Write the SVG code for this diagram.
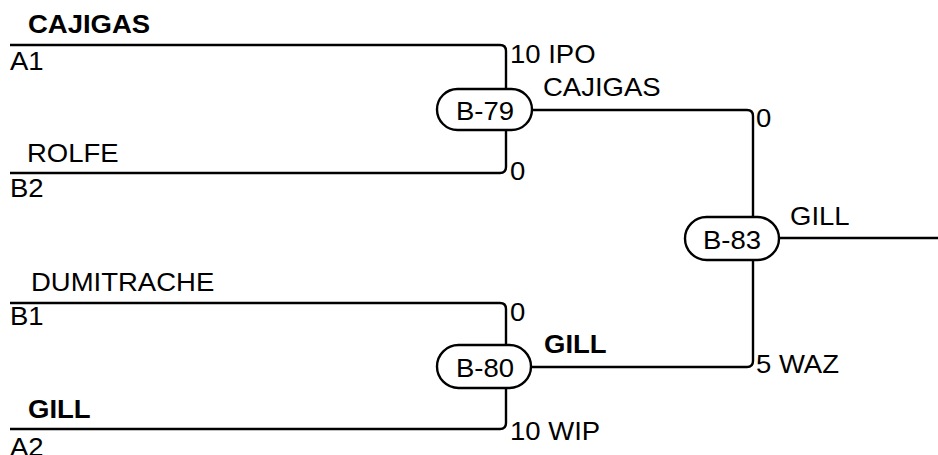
<svg xmlns="http://www.w3.org/2000/svg" width="938" height="455" viewBox="0 0 938 455">
<style>
  .t{font-family:"Liberation Sans",Arial,sans-serif;font-size:25px;fill:#000}
  .b{font-weight:bold}
  .ln{fill:none;stroke:#000;stroke-width:2.4}
  .pill{fill:#fff;stroke:#000;stroke-width:2.4}
  .c{text-anchor:middle}
</style>
<rect width="938" height="455" fill="#fff"/>
<g id="connectors">
  <path class="ln" d="M10,45 H500 Q506,45 506,51 V89"/>
  <path class="ln" d="M10,173 H500 Q506,173 506,167 V130"/>
  <path class="ln" d="M10,303 H500 Q506,303 506,309 V345"/>
  <path class="ln" d="M10,429 H500 Q506,429 506,423 V388"/>
  <path class="ln" d="M532,110 H747 Q753,110 753,116 V217"/>
  <path class="ln" d="M531,367 H747 Q753,367 753,361 V260"/>
  <path class="ln" d="M779,238 H938"/>
</g>
<g id="entrants">
  <text class="t b" transform="translate(28,33) scale(1.1,1)">CAJIGAS</text>
  <text class="t" transform="translate(10,70) scale(1.1,1)">A1</text>
  <text class="t" transform="translate(27,162) scale(1.1,1)">ROLFE</text>
  <text class="t" transform="translate(10,197) scale(1.1,1)">B2</text>
  <text class="t" transform="translate(31,291) scale(1.1,1)">DUMITRACHE</text>
  <text class="t" transform="translate(10,325) scale(1.1,1)">B1</text>
  <text class="t b" transform="translate(28,418) scale(1.1,1)">GILL</text>
  <text class="t" transform="translate(10,456) scale(1.1,1)">A2</text>
</g>
<g id="B-79">
  <rect class="pill" x="437" y="89" width="95" height="41" rx="20.5"/>
  <text class="t c" transform="translate(485,120) scale(1.1,1)">B-79</text>
</g>
<g id="B-80">
  <rect class="pill" x="437" y="345" width="94" height="43" rx="21.5"/>
  <text class="t c" transform="translate(485,377) scale(1.1,1)">B-80</text>
</g>
<g id="B-83">
  <rect class="pill" x="685" y="217" width="94" height="43" rx="21.5"/>
  <text class="t c" transform="translate(732,249) scale(1.1,1)">B-83</text>
</g>
<g id="labels">
  <text class="t" transform="translate(510,63) scale(1.1,1)">10 IPO</text>
  <text class="t" transform="translate(510,180) scale(1.1,1)">0</text>
  <text class="t" transform="translate(543,96) scale(1.1,1)">CAJIGAS</text>
  <text class="t" transform="translate(756,127) scale(1.1,1)">0</text>
  <text class="t" transform="translate(510,321) scale(1.1,1)">0</text>
  <text class="t b" transform="translate(544,353) scale(1.1,1)">GILL</text>
  <text class="t" transform="translate(510,440) scale(1.1,1)">10 WIP</text>
  <text class="t" transform="translate(756,373) scale(1.1,1)">5 WAZ</text>
  <text class="t" transform="translate(790,225) scale(1.1,1)">GILL</text>
</g>
</svg>
